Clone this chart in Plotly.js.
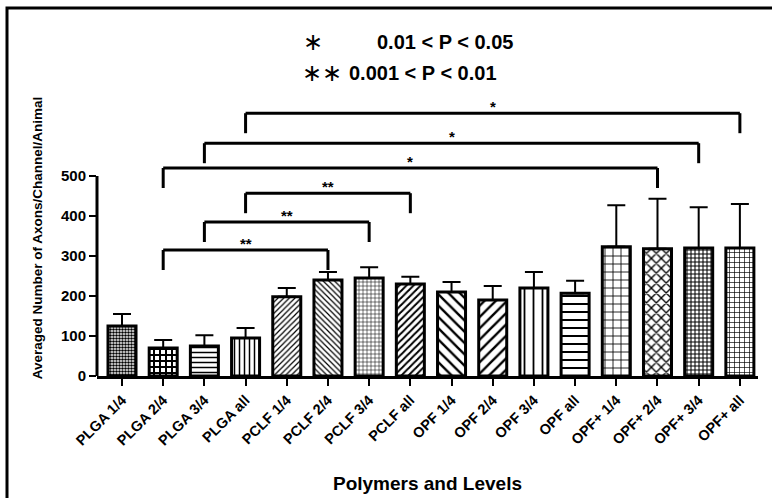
<!DOCTYPE html>
<html>
<head>
<meta charset="utf-8">
<script src="https://cdn.plot.ly/plotly-3.0.1.min.js"></script>
<style>html,body{margin:0;padding:0;background:#fff;}#chart{width:772px;height:498px;}</style>
</head>
<body>
<div id="chart"></div>
<script>
// ---- data ----
var categories = ["PLGA 1/4","PLGA 2/4","PLGA 3/4","PLGA all","PCLF 1/4","PCLF 2/4","PCLF 3/4","PCLF all","OPF 1/4","OPF 2/4","OPF 3/4","OPF all","OPF+ 1/4","OPF+ 2/4","OPF+ 3/4","OPF+ all"];
var means = [125, 70, 75, 95, 198, 240, 245, 230, 210, 190, 220, 207, 323, 318, 320, 320];
var errors = [30, 20, 27, 25, 22, 20, 27, 18, 25, 35, 40, 31, 104, 125, 102, 110];
var yTicks = [0, 100, 200, 300, 400, 500];
// significance brackets: from category index, to category index, level, label
var bracketFrom = [1, 2, 3, 1, 2, 3];
var bracketTo = [5, 6, 7, 13, 14, 15];
var bracketLevel = [315, 385, 457, 520, 582, 657];
var bracketLabel = ["**", "**", "**", "*", "*", "*"];
var legendSymbols = ["∗", "∗∗"];
var legendTexts = ["0.01 < P < 0.05", "0.001 < P < 0.01"];

// ---- styles ----
var patShapes = [".", "+", "-", "|", "/", "\\", "+", "/", "\\", "/", "|", "-", "+", "x", "+", "+"];
var patSizes = [3, 6, 5, 5, 4, 4, 4, 5, 8, 8, 9, 8, 8, 7, 4, 5];
var patSolid = [0.55, 0.55, 0.3, 0.3, 0.3, 0.3, 0.25, 0.4, 0.3, 0.3, 0.2, 0.25, 0.2, 0.35, 0.45, 0.25];

var L = 97, R = 14, T = 100, B = 122, W = 772 - L - R, H = 498 - T - B;
function px(xp) { return (xp - L) / W; }
function py(yp) { return (498 - B - yp) / H; }
var font = "Liberation Sans, Arial, sans-serif";

var trace = {
  type: "bar",
  x: categories,
  y: means,
  width: 0.68,
  marker: {
    color: "#ffffff",
    line: {color: "#000", width: 3},
    pattern: {shape: patShapes, size: patSizes, solidity: patSolid, fgcolor: "#000", bgcolor: "#fff", fillmode: "replace"}
  },
  error_y: {type: "data", symmetric: false, array: errors, arrayminus: means.map(function(){return 0;}), color: "#000", thickness: 2, width: 9},
  hoverinfo: "none"
};

var shapes = [];
var annotations = [];
var legLen = 50;
for (var i = 0; i < bracketFrom.length; i++) {
  var a = categories[bracketFrom[i]], b = categories[bracketTo[i]], h = bracketLevel[i];
  shapes.push({type: "line", xref: "x", yref: "y", x0: a, x1: a, y0: h - legLen, y1: h, line: {color: "#000", width: 3}});
  shapes.push({type: "line", xref: "x", yref: "y", x0: a, x1: b, y0: h, y1: h, line: {color: "#000", width: 3}});
  shapes.push({type: "line", xref: "x", yref: "y", x0: b, x1: b, y0: h - legLen, y1: h, line: {color: "#000", width: 3}});
  annotations.push({xref: "x", yref: "y", x: (bracketFrom[i] + bracketTo[i]) / 2, y: h, yanchor: "bottom", yshift: -4,
    text: bracketLabel[i], showarrow: false, font: {family: font, size: 15, color: "#000", weight: "bold"}});
}
// y axis line only over 0..500
shapes.push({type: "line", xref: "paper", yref: "y", x0: 0, x1: 0, y0: 0, y1: yTicks[yTicks.length - 1], line: {color: "#000", width: 3}});
// outer frame
shapes.push({type: "rect", xref: "paper", yref: "paper", x0: px(7), x1: px(790), y0: py(8), y1: py(520), line: {color: "#000", width: 3}, fillcolor: "rgba(0,0,0,0)"});

// legend
var legendY = [42, 73];
for (var j = 0; j < legendTexts.length; j++) {
  annotations.push({xref: "paper", yref: "paper", x: px(j === 0 ? 313 : 322), y: py(legendY[j]), xanchor: "center", yanchor: "middle",
    text: legendSymbols[j], showarrow: false, font: {family: "DejaVu Sans, sans-serif", size: 24, color: "#000"}});
  annotations.push({xref: "paper", yref: "paper", x: px(j === 0 ? 375 : 347), y: py(legendY[j]), xanchor: "left", yanchor: "middle",
    text: legendTexts[j], showarrow: false, font: {family: "Liberation Sans Narrow, Liberation Sans, Arial, sans-serif", size: 20, color: "#000", weight: "bold"}});
}

var layout = {
  width: 772, height: 498,
  margin: {l: L, r: R, t: T, b: B, pad: 0},
  paper_bgcolor: "#fff", plot_bgcolor: "#fff",
  showlegend: false,
  bargap: 0.32,
  xaxis: {
    type: "category", range: [-0.607, 15.44], showline: true, linecolor: "#000", linewidth: 3,
    ticks: "outside", ticklen: 7, tickwidth: 2, tickcolor: "#000", tickangle: -45,
    tickfont: {family: font, size: 14.5, color: "#000", weight: "bold"},
    showgrid: false, zeroline: false,
    title: {text: "Polymers and Levels", font: {family: font, size: 19, color: "#000", weight: "bold"}, standoff: 30}
  },
  yaxis: {
    range: [0, H / 0.4], showline: false, tickvals: yTicks, ticks: "outside", ticklen: 7, tickwidth: 2, tickcolor: "#000",
    tickfont: {family: font, size: 15, color: "#000", weight: "bold"},
    showgrid: false, zeroline: false,
    title: {text: "Averaged Number of Axons/Channel/Animal", font: {family: font, size: 13.5, color: "#000", weight: "bold"}, standoff: 15}
  },
  shapes: shapes,
  annotations: annotations
};
Plotly.newPlot("chart", [trace], layout, {staticPlot: true, displayModeBar: false});
</script>
</body>
</html>
